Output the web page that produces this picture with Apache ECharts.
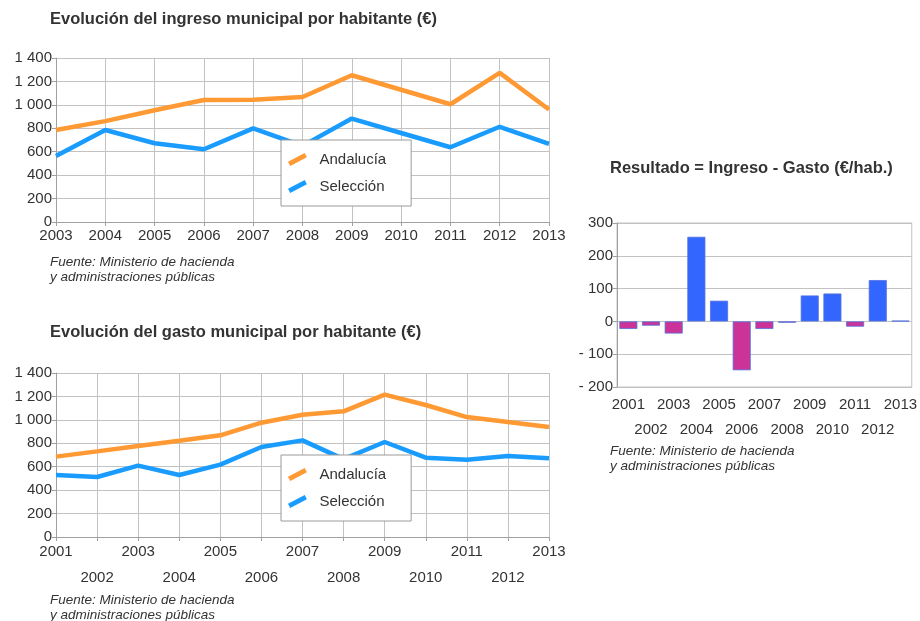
<!DOCTYPE html>
<html><head><meta charset="utf-8">
<script src="https://cdn.jsdelivr.net/npm/echarts@6/dist/echarts.min.js"></script>
<style>html,body{margin:0;padding:0;background:#fff}#c{width:920px;height:621px}</style>
</head><body><div id="c"></div>
<script>
// ---- data ----
const yearsIngreso = ['2003','2004','2005','2006','2007','2008','2009','2010','2011','2012','2013'];
const ingresoAndalucia = [785, 861, 954, 1042, 1044, 1067, 1253, 1129, 1005, 1273, 960];
const ingresoSeleccion = [564, 785, 672, 621, 799, 650, 883, 760, 638, 813, 666];

const yearsGasto = ['2001','2002','2003','2004','2005','2006','2007','2008','2009','2010','2011','2012','2013'];
const gastoAndalucia = [686, 731, 777, 822, 868, 976, 1044, 1073, 1215, 1127, 1024, 982, 939];
const gastoSeleccion = [529, 512, 609, 529, 618, 768, 825, 665, 811, 677, 660, 691, 672];

const yearsResultado = ['2001','2002','2003','2004','2005','2006','2007','2008','2009','2010','2011','2012','2013'];
const resultado = [-23, -13, -37, 258, 63, -149, -23, -4, 79, 85, -16, 126, 2];

const seriesNames = ['Andalucía', 'Selección'];
// ---- style ----
const FONT = 'Liberation Sans, Arial, sans-serif';
const TXT = '#333';
const ORANGE = '#ff9933';
const BLUE = '#1a9cff';
const GRIDC = '#c2c2c2';
const AXC = '#a0a0a0';
const legendIcon = 'path://M1.38,11.38 L18.38,2.38 L20.62,6.62 L3.62,15.62 Z';

function thousands(v){ return String(v).replace(/\B(?=(\d{3})+(?!\d))/g, ' '); }

function yAxisLine(gi){
  return {
    type:'value', gridIndex:gi, min:0, max:1400, interval:200,
    axisLine:{show:true, lineStyle:{color:AXC}},
    axisTick:{show:true, length:4, lineStyle:{color:AXC}},
    splitLine:{lineStyle:{color:GRIDC}},
    axisLabel:{color:TXT, fontFamily:FONT, fontSize:15, margin:4, formatter:thousands}
  };
}
function xAxisLine(gi, data, twoRows){
  return {
    type:'category', gridIndex:gi, data:data, boundaryGap:false,
    axisLine:{lineStyle:{color:AXC}},
    axisTick:{show:true, length:4, lineStyle:{color:AXC}, interval:0},
    splitLine:{show:true, interval:0, lineStyle:{color:GRIDC}},
    axisLabel:{color:TXT, fontFamily:FONT, fontSize:15, interval:0,
      margin: twoRows ? 2 : 5, lineHeight: twoRows ? 26 : 18,
      formatter: twoRows ? (v,i)=> (i%2===1 ? '\n'+v : v) : (v)=>v}
  };
}
function legend(top){
  return {
    left:281, top:top, orient:'vertical', icon:legendIcon,
    itemWidth:22, itemHeight:13, itemGap:12,
    backgroundColor:'#fff', borderColor:'#9a9a9a', borderWidth:1,
    padding:[12, 25, 12, 7],
    data:seriesNames,
    textStyle:{color:TXT, fontFamily:FONT, fontSize:15, padding:[0,0,0,6]}
  };
}
const titleStyle = {fontFamily:FONT, fontSize:16.5, fontWeight:'bold', color:TXT};
const srcStyle = {fontFamily:FONT, fontSize:13.5, fontStyle:'italic', fontWeight:'normal', color:TXT, lineHeight:15};
const srcText = 'Fuente: Ministerio de hacienda\ny administraciones públicas';

const chart = echarts.init(document.getElementById('c'), null, {renderer:'canvas'});
chart.setOption({
  animation:false,
  backgroundColor:'#fff',
  title:[
    {text:'Evolución del ingreso municipal por habitante (€)', left:50, top:11, padding:0, textStyle:titleStyle},
    {text:'Evolución del gasto municipal por habitante (€)', left:50, top:324, padding:0, textStyle:titleStyle},
    {text:'Resultado = Ingreso - Gasto (€/hab.)', left:610, top:160, padding:0, textStyle:titleStyle},
    {text:srcText, left:50, top:255, padding:0, textStyle:srcStyle},
    {text:srcText, left:50, top:593, padding:0, textStyle:srcStyle},
    {text:srcText, left:610, top:444, padding:0, textStyle:srcStyle}
  ],
  legend:[legend(140), legend(455)],
  grid:[
    {left:56, top:58, width:493, height:164},
    {left:56, top:373, width:493, height:164},
    {left:617, top:223, width:298, height:164, show:true, borderColor:GRIDC, borderWidth:1, backgroundColor:'transparent'}
  ],
  xAxis:[
    xAxisLine(0, yearsIngreso, false),
    xAxisLine(1, yearsGasto, true),
    {type:'category', gridIndex:2, data:yearsResultado, boundaryGap:true,
      axisLine:{show:false, onZero:false},
      axisTick:{show:false},
      splitLine:{show:false},
      axisLabel:{color:TXT, fontFamily:FONT, fontSize:15, interval:0, margin:5, lineHeight:25,
        formatter:(v,i)=> (i%2===1 ? '\n'+v : v)}}
  ],
  yAxis:[
    yAxisLine(0),
    yAxisLine(1),
    {type:'value', gridIndex:2, min:-200, max:300, interval:100,
      axisLine:{show:true, lineStyle:{color:AXC}},
      axisTick:{show:true, length:4, lineStyle:{color:AXC}},
      splitLine:{lineStyle:{color:GRIDC}},
      axisLabel:{color:TXT, fontFamily:FONT, fontSize:15, margin:4,
        formatter:(v)=> v<0 ? '- '+Math.abs(v) : String(v)}}
  ],
  series:[
    {name:seriesNames[0], type:'line', xAxisIndex:0, yAxisIndex:0, data:ingresoAndalucia,
      showSymbol:false, color:ORANGE, lineStyle:{width:4.5, color:ORANGE}, itemStyle:{color:ORANGE}, z:3},
    {name:seriesNames[1], type:'line', xAxisIndex:0, yAxisIndex:0, data:ingresoSeleccion,
      showSymbol:false, color:BLUE, lineStyle:{width:4.5, color:BLUE}, itemStyle:{color:BLUE}, z:3},
    {name:seriesNames[0], type:'line', xAxisIndex:1, yAxisIndex:1, data:gastoAndalucia,
      showSymbol:false, color:ORANGE, lineStyle:{width:4.5, color:ORANGE}, itemStyle:{color:ORANGE}, z:3},
    {name:seriesNames[1], type:'line', xAxisIndex:1, yAxisIndex:1, data:gastoSeleccion,
      showSymbol:false, color:BLUE, lineStyle:{width:4.5, color:BLUE}, itemStyle:{color:BLUE}, z:3},
    {name:'Resultado', type:'bar', xAxisIndex:2, yAxisIndex:2, data:resultado, barWidth:18,
      itemStyle:{color:(p)=> p.value<0 ? '#cc3399' : '#3366ff',
        borderColor:(p)=> p.value<0 ? '#e08cc0' : '#99b3ff', borderWidth:0.8}}
  ]
});
</script>
</body></html>
